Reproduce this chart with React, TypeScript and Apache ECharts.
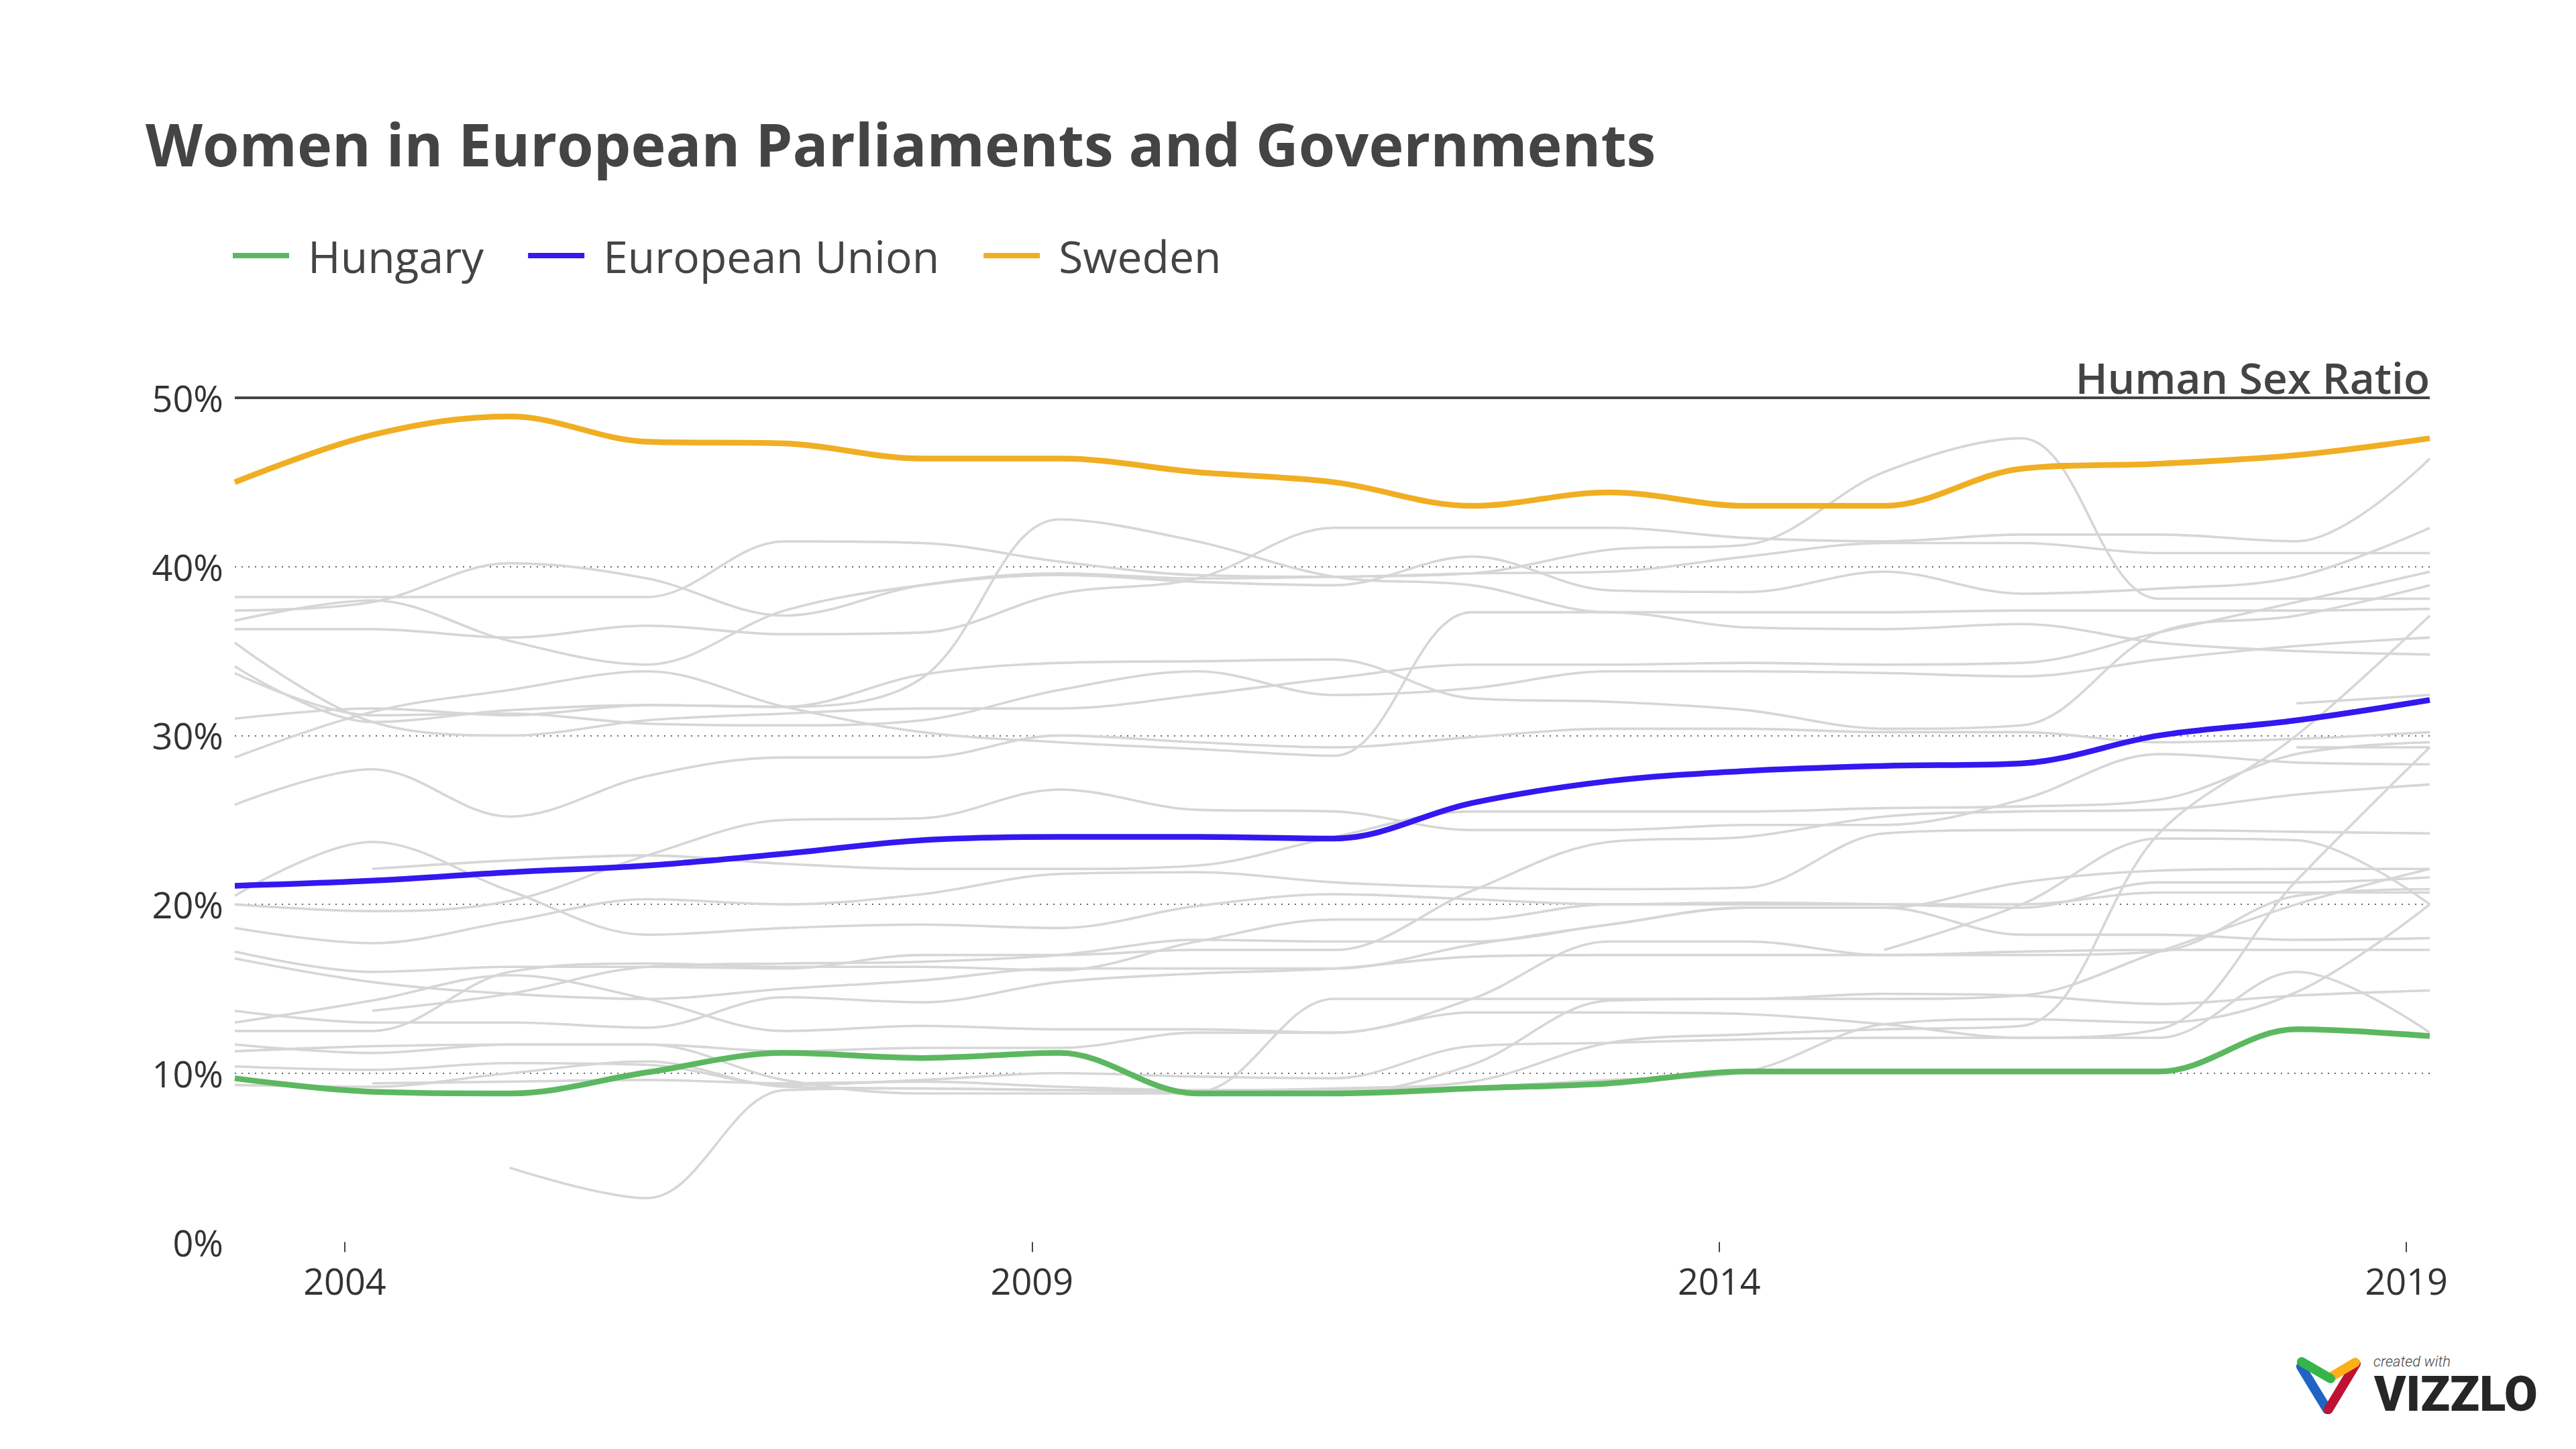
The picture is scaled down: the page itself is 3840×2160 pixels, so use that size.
import React, { useEffect, useRef } from "react";
import * as echarts from "echarts";

// Observation dates (fractional years, one reading per year)
const years = [2003.2, 2004.2, 2005.2, 2006.2, 2007.2, 2008.2, 2009.2, 2010.2, 2011.2, 2012.2, 2013.2, 2014.2, 2015.2, 2016.2, 2017.2, 2018.2, 2019.17];
const xTickYears = [2004, 2009, 2014, 2019];
const humanSexRatio = 50;

// Highlighted series (% women)
const hungary = [9.7, 8.9, 8.8, 10.05, 11.2, 10.9, 11.2, 8.8, 8.8, 9.1, 9.4, 10.1, 10.1, 10.1, 10.1, 12.6, 12.2];
const europeanUnion = [21.1, 21.4, 21.9, 22.3, 23.0, 23.8, 24.0, 24.0, 23.9, 26.0, 27.3, 27.9, 28.2, 28.35, 30.0, 30.9, 32.1];
const sweden = [45.0, 47.8, 48.9, 47.4, 47.3, 46.4, 46.4, 45.6, 45.0, 43.6, 44.4, 43.6, 43.6, 45.8, 46.1, 46.6, 47.6];

// Other European countries (grey context lines)
const g01 = [38.2, 38.2, 38.2, 38.2, 41.5, 41.4, 40.3, 39.5, 39.4, 39.6, 39.7, 40.6, 41.4, 41.4, 40.8, 40.8, 40.8];
const g02 = [37.4, 37.9, 40.2, 39.3, 37.1, 38.9, 39.6, 39.3, 39.4, 39.6, 41.0, 41.3, 45.6, 47.6, 38.1, 38.1, 38.1];
const g03 = [36.8, 38.0, 35.6, 34.2, 37.4, 38.9, 39.5, 39.1, 38.9, 40.6, 38.6, 38.5, 39.7, 38.4, 38.7, 39.4, 42.3];
const g04 = [36.3, 36.3, 35.8, 36.5, 36.0, 36.1, 38.4, 39.3, 42.3, 42.3, 42.3, 41.7, 41.5, 41.9, 41.9, 41.5, 46.4];
const g05 = [35.5, 30.8, 30.0, 30.9, 31.3, 31.6, 31.6, 32.4, 33.4, 34.2, 34.2, 34.3, 34.2, 34.3, 36.1, 37.9, 39.7];
const g06 = [34.1, 30.8, 31.5, 31.8, 31.7, 33.4, 42.8, 41.5, 39.4, 38.9, 37.3, 37.3, 37.3, 37.4, 37.4, 37.4, 37.5];
const g07 = [33.7, 31.2, 31.3, 30.7, 30.6, 30.9, 32.7, 33.8, 32.4, 32.8, 33.8, 33.8, 33.7, 33.5, 34.5, 35.3, 35.8];
const g08 = [31.0, 31.6, 31.2, 31.8, 31.7, 33.6, 34.3, 34.4, 34.5, 32.2, 32.0, 31.5, 30.4, 30.6, 36.1, 37.1, 38.9];
const g09 = [28.7, 31.4, 32.7, 33.8, 31.7, 30.2, 29.6, 29.2, 28.8, 37.3, 37.3, 36.4, 36.3, 36.6, 35.5, 35.0, 34.8];
const g10 = [25.9, 28.0, 25.2, 27.6, 28.7, 28.7, 30.0, 29.6, 29.3, 29.9, 30.4, 30.4, 30.2, 30.2, 29.6, 29.8, 30.2];
const g11 = [20.5, 23.7, 20.8, 18.2, 18.6, 18.8, 18.6, 19.9, 20.6, 20.3, 20.0, 20.1, 20.0, 19.8, 21.3, 21.3, 21.6];
const g12 = [20.0, 19.6, 20.2, 22.9, 25.0, 25.1, 26.8, 25.6, 25.5, 24.4, 24.4, 24.7, 24.7, 26.2, 28.9, 28.4, 28.3];
const g13 = [18.6, 17.7, 19.0, 20.3, 20.0, 20.6, 21.8, 21.9, 21.3, 21.0, 20.9, 21.0, 24.2, 24.4, 24.4, 24.3, 24.2];
const g14 = [17.2, 16.0, 16.3, 16.3, 16.2, 17.0, 17.0, 17.3, 17.3, 20.8, 23.7, 24.0, 25.2, 25.5, 25.6, 26.5, 27.1];
const g15 = [16.8, 15.4, 14.7, 14.4, 15.0, 15.5, 16.2, 16.2, 16.2, 17.6, 18.8, 19.8, 19.8, 18.2, 18.2, 17.9, 18.0];
const g16 = [13.7, 13.0, 13.0, 12.7, 14.5, 14.2, 15.4, 15.9, 16.2, 16.9, 17.0, 17.0, 17.0, 17.2, 17.3, 17.3, 17.3];
const g17 = [13.0, 14.3, 15.8, 14.4, 12.5, 12.8, 12.6, 12.6, 12.4, 13.6, 13.6, 13.5, 12.9, 12.1, 12.1, 16.0, 12.4];
const g18 = [12.5, 12.5, 16.0, 16.5, 16.3, 16.3, 16.1, 17.8, 19.1, 19.1, 20.0, 20.0, 20.0, 20.0, 20.7, 20.7, 20.7];
const g19 = [11.7, 11.2, 11.7, 11.7, 9.6, 8.8, 8.8, 8.8, 8.8, 10.5, 14.3, 14.4, 14.4, 14.6, 17.2, 20.0, 22.1];
const g20 = [11.3, 11.6, 11.7, 11.7, 11.3, 11.5, 11.5, 12.4, 12.4, 14.4, 17.8, 17.8, 17.0, 17.0, 17.2, 20.5, 20.9];
const g21 = [10.4, 10.2, 10.6, 10.5, 9.3, 9.6, 10.0, 9.8, 9.7, 11.6, 11.8, 12.0, 12.1, 12.1, 12.6, 21.4, 29.3];
const g22 = [9.3, 9.2, 10.0, 10.7, 9.2, 9.1, 9.0, 9.0, 9.1, 9.5, 11.8, 12.3, 12.6, 12.8, 24.2, 30.0, 37.1];
const g23 = [null, 22.1, 22.6, 22.9, 22.4, 22.1, 22.1, 22.3, 24.0, 25.5, 25.5, 25.5, 25.7, 25.8, 26.2, 28.9, 29.6];
const g24 = [null, 13.7, 14.7, 16.3, 16.5, 16.6, 17.0, 17.9, 17.8, 17.8, 18.8, 19.8, 19.8, 21.3, 22.0, 22.1, 22.1];
const g25 = [null, 9.4, 9.5, 9.6, 9.4, 9.5, 9.2, 9.0, 9.0, 9.2, 9.6, 10.1, 12.9, 13.2, 13.0, 14.8, 20.0];
const g26 = [null, null, 4.4, 2.6, 9.0, 9.1, 9.0, 8.9, 14.4, 14.4, 14.4, 14.4, 14.7, 14.6, 14.1, 14.6, 14.9];
const g27 = [null, null, null, null, null, null, null, null, null, null, null, null, 17.3, 20.0, 23.9, 23.8, 20.0];
const g28 = [null, null, null, null, null, null, null, null, null, null, null, null, null, null, null, 31.9, 32.4];
const g29 = [null, null, null, null, null, null, null, null, null, null, null, null, null, null, null, 29.3, 29.3];
const otherCountries = [g01, g02, g03, g04, g05, g06, g07, g08, g09, g10, g11, g12, g13, g14, g15, g16, g17, g18, g19, g20, g21, g22, g23, g24, g25, g26, g27, g28, g29];

const FONT = "'Open Sans', 'Noto Sans', sans-serif";
const SMOOTH = 0.35;

function toPairs(vals: (number | null)[]) {
  return years.map((x, i) => [x, vals[i]]).filter((d) => d[1] !== null && d[1] !== undefined);
}

export default function App() {
  const ref = useRef<HTMLDivElement>(null);

  useEffect(() => {
    if (!ref.current) return;
    const chart = echarts.init(ref.current, null, { renderer: "svg" });

    const greySeries = otherCountries.map((vals, i) => ({
      name: "Country " + (i + 1),
      type: "line",
      data: toPairs(vals),
      smooth: SMOOTH,
      symbol: "none",
      silent: true,
      color: "#d6d6d6",
      lineStyle: { color: "#d6d6d6", width: 3.6 },
      z: 1,
    }));

    const mainSeries = (name: string, vals: number[], color: string, extra: any = {}) => ({
      name,
      type: "line",
      data: toPairs(vals),
      smooth: SMOOTH,
      symbol: "none",
      silent: true,
      color,
      itemStyle: { color },
      lineStyle: { color, width: 8.5 },
      z: 3,
      ...extra,
    });

    chart.setOption({
      animation: false,
      backgroundColor: "#ffffff",
      title: {
        text: "Women in European Parliaments and Governments",
        left: 212,
        top: 165,
        textStyle: { fontFamily: FONT, fontWeight: "bold", fontSize: 88, color: "#444444" },
      },
      legend: {
        data: ["Hungary", "European Union", "Sweden"],
        left: 342,
        top: 343,
        icon: "rect",
        itemWidth: 84,
        itemHeight: 8,
        itemGap: 66,
        selectedMode: false,
        textStyle: { fontFamily: FONT, fontSize: 66, color: "#444444", padding: [0, 0, 0, 23] },
      },
      grid: { left: 350, right: 218, top: 593, bottom: 308.5, containLabel: false, outerBoundsMode: "none" },
      xAxis: {
        type: "value",
        min: 2003.2,
        max: 2019.17,
        axisLine: { show: false },
        axisTick: { show: true, customValues: xTickYears, length: 15, lineStyle: { color: "#444444", width: 2 } },
        axisLabel: {
          customValues: xTickYears,
          fontFamily: FONT,
          fontSize: 54,
          color: "#333333",
          margin: 30,
          formatter: (v: number) => String(Math.round(v)),
        },
        splitLine: { show: false },
      },
      yAxis: {
        type: "value",
        min: 0,
        max: 50,
        interval: 10,
        axisLine: { show: false },
        axisTick: { show: false },
        axisLabel: { formatter: "{value}%", fontFamily: FONT, fontSize: 54, color: "#333333", margin: 17 },
        splitLine: {
          show: true,
          lineStyle: {
            color: ["rgba(0,0,0,0)", "#666666", "#666666", "#666666", "#666666", "rgba(0,0,0,0)"],
            type: [2, 8],
            width: 2,
          },
        },
      },
      series: [
        ...greySeries,
        mainSeries("Hungary", hungary, "#5cb860"),
        mainSeries("European Union", europeanUnion, "#3418f0"),
        mainSeries("Sweden", sweden, "#f0ae22", {
          markLine: {
            silent: true,
            symbol: ["none", "none"],
            label: { show: false },
            lineStyle: { color: "#444444", width: 4, type: "solid" },
            data: [{ yAxis: humanSexRatio }],
            z: 2,
          },
        }),
      ],
      graphic: [
        {
          type: "text",
          right: 218,
          top: 530,
          style: { text: "Human Sex Ratio", fontFamily: FONT, fontSize: 64, fontWeight: 600, fill: "#444444" },
        },
        {
          type: "group",
          children: [
            { type: "line", shape: { x1: 3430, y1: 2037, x2: 3469, y2: 2101 }, style: { stroke: "#2163c4", lineWidth: 14, lineCap: "round" } },
            { type: "line", shape: { x1: 3471, y1: 2101, x2: 3512, y2: 2033 }, style: { stroke: "#bd1234", lineWidth: 14, lineCap: "round" } },
            { type: "line", shape: { x1: 3474, y1: 2053, x2: 3511, y2: 2031 }, style: { stroke: "#fbb017", lineWidth: 14, lineCap: "round" } },
            { type: "line", shape: { x1: 3431, y1: 2030, x2: 3474, y2: 2055 }, style: { stroke: "#35b54a", lineWidth: 14, lineCap: "round" } },
            {
              type: "text",
              style: { x: 3538, y: 2029, text: "created with", fontFamily: "Roboto, sans-serif", fontStyle: "italic", fontWeight: 300, fontSize: 22, lineHeight: 22, fill: "#444444", verticalAlign: "middle", textVerticalAlign: "middle" },
            },
            {
              type: "text",
              style: { x: 3539, y: 2078, text: "VIZZLO", fontFamily: "Roboto, sans-serif", fontWeight: 900, fontSize: 72, lineHeight: 50, fill: "#262626", verticalAlign: "middle", textVerticalAlign: "middle" },
            },
          ],
        },
      ],
    });

    return () => chart.dispose();
  }, []);

  return (
    <div
      ref={ref}
      style={{ position: "fixed", left: 0, top: 0, width: 3840, height: 2160, background: "#ffffff" }}
    />
  );
}
